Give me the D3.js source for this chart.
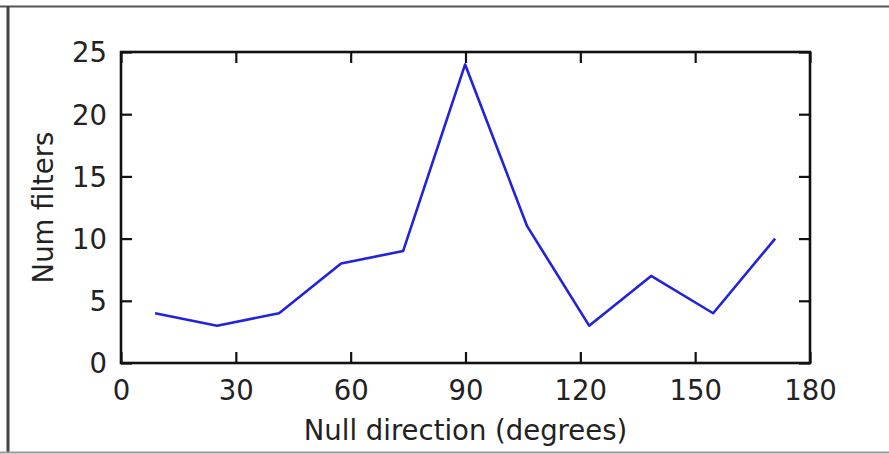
<!DOCTYPE html>
<html>
<head>
<meta charset="utf-8">
<script src="https://cdn.jsdelivr.net/npm/d3@7"></script>
<style>
  body { margin: 0; background: #fff; }
  text { font-family: "DejaVu Sans", sans-serif; fill: #222; }
</style>
</head>
<body>
<script>
// bin centres (degrees) and counts
const directions = [8.9, 25.1, 41.3, 57.5, 73.7, 89.9, 106.1, 122.3, 138.5, 154.7, 170.9];
const counts = [4, 3, 4, 8, 9, 24, 11, 3, 7, 4, 10];
const xTicks = [0, 30, 60, 90, 120, 150, 180];
const yTicks = [0, 5, 10, 15, 20, 25];

const W = 889, H = 454;
const margin = { top: 52, left: 121, right: 79, bottom: 91 };
const width = W - margin.left - margin.right;
const height = H - margin.top - margin.bottom;
const tickLen = 11;
const fontSize = 27.5;

const svg = d3.select('body').append('svg')
    .attr('width', W)
    .attr('height', H);

// screenshot frame
svg.append('line').attr('x1', 0).attr('x2', W).attr('y1', 6.5).attr('y2', 6.5)
    .attr('stroke', '#555').attr('stroke-width', 2);
svg.append('line').attr('x1', 8).attr('x2', 8).attr('y1', 6).attr('y2', 453)
    .attr('stroke', '#444').attr('stroke-width', 3);
svg.append('line').attr('x1', 0).attr('x2', W).attr('y1', 452.5).attr('y2', 452.5)
    .attr('stroke', '#999').attr('stroke-width', 2);

const root = svg.append('g').attr('transform', `translate(${margin.left},${margin.top})`);

const x = d3.scaleLinear().domain([0, 180]).range([0, width]);
const y = d3.scaleLinear().domain([0, 25]).range([height, 0]);

//inward ticks on all four sides, like matplotlib classic
const styleAxis = (g) => {
    g.select('.domain').remove();
    g.selectAll('.tick line').attr('stroke', '#111').attr('stroke-width', 2.2);
    g.selectAll('.tick text').style('font-size', fontSize + 'px').attr('fill', '#222');
};

root.append('g').attr('transform', `translate(0,${height})`)
    .call(d3.axisBottom(x).tickValues(xTicks).tickSizeInner(-tickLen).tickSizeOuter(0))
    .call(styleAxis)
    .call((g) => g.selectAll('.tick text').attr('dy', '0.71em').attr('y', 17));
root.append('g')
    .call(d3.axisTop(x).tickValues(xTicks).tickSizeInner(-tickLen).tickSizeOuter(0).tickFormat(''))
    .call(styleAxis);
root.append('g')
    .call(d3.axisLeft(y).tickValues(yTicks).tickSizeInner(-tickLen).tickSizeOuter(0))
    .call(styleAxis)
    .call((g) => g.selectAll('.tick text').attr('x', -14).attr('dy', '0.36em'));
root.append('g').attr('transform', `translate(${width},0)`)
    .call(d3.axisRight(y).tickValues(yTicks).tickSizeInner(-tickLen).tickSizeOuter(0).tickFormat(''))
    .call(styleAxis);

// data line
const line = d3.line()
    .x((d, i) => x(directions[i]))
    .y((d) => y(d));
root.append('path')
    .datum(counts)
    .attr('d', line)
    .attr('fill', 'none')
    .attr('stroke', '#2222dd')
    .attr('stroke-width', 2.6)
    .attr('stroke-linejoin', 'round');

// frame of the axes
root.append('rect')
    .attr('width', width).attr('height', height)
    .attr('fill', 'none').attr('stroke', '#111').attr('stroke-width', 2.6);

// axis titles
svg.append('text')
    .attr('x', margin.left + width / 2).attr('y', 440)
    .attr('text-anchor', 'middle')
    .style('font-size', fontSize + 'px')
    .text('Null direction (degrees)');
svg.append('text')
    .attr('transform', `translate(53,${margin.top + height / 2}) rotate(-90)`)
    .attr('text-anchor', 'middle')
    .style('font-size', fontSize + 'px')
    .text('Num filters');
</script>
</body>
</html>
